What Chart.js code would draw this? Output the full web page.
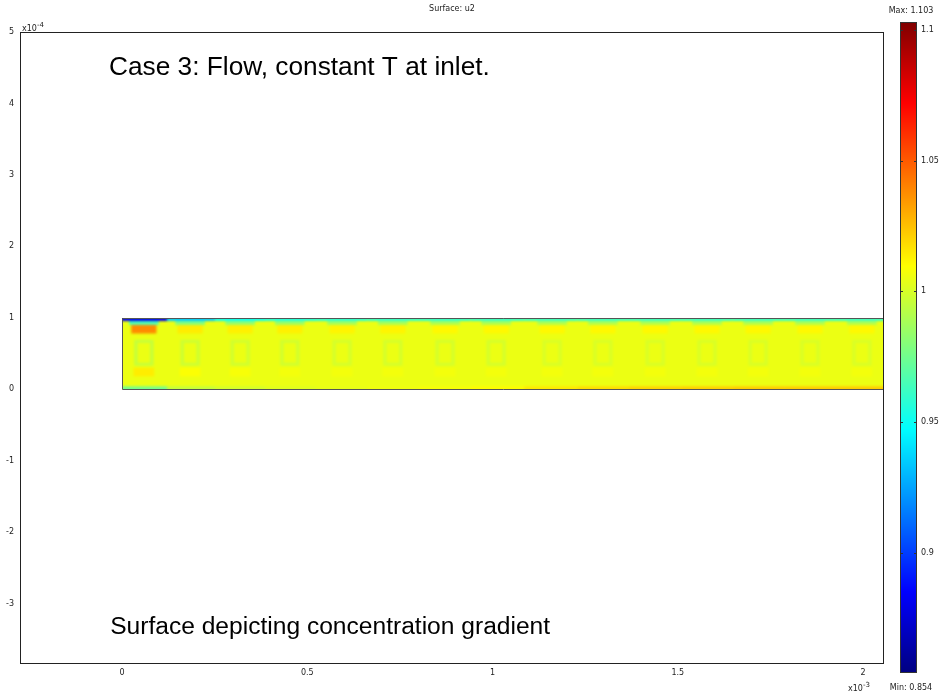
<!DOCTYPE html>
<html>
<head>
<meta charset="utf-8">
<script src="https://cdn.jsdelivr.net/npm/chart.js"></script>
<style>
  body { margin: 0; background: #fff; }
  canvas { position: absolute; left: 0; top: 0; }
</style>
</head>
<body>
<canvas id="myChart" width="945" height="698"></canvas>
<canvas id="colorBar" width="945" height="698"></canvas>
<script>
// axis ranges (x in 1e-3, y in 1e-4)
const xRange = [-0.2753, 2.0567];
const yRange = [-3.846, 5];
const colorMin = 0.854;
const colorMax = 1.103;

// channel extent
const domainX = [0, 2.06];
const domainY = [0, 1];

// repeating cell pattern along the channel, values of u2
const periodCenters = [0.059, 0.184, 0.319, 0.453, 0.594, 0.731, 0.872, 1.010, 1.161, 1.298, 1.439, 1.579, 1.717, 1.857, 1.997];
const baseValue = 1.005;
const topEdge    = [0.880, 0.935, 0.950, 0.955, 0.958, 0.960, 0.960, 0.961, 0.962, 0.962, 0.962, 0.962, 0.962, 0.962, 0.962];
const underTop   = [0.965, 0.978, 0.982, 0.984, 0.986, 0.987, 0.988, 0.988, 0.989, 0.989, 0.989, 0.989, 0.989, 0.989, 0.989];
const upperBlob  = [1.038, 1.014, 1.013, 1.013, 1.012, 1.012, 1.011, 1.011, 1.011, 1.011, 1.011, 1.011, 1.011, 1.011, 1.011];
const rectEdge   = [0.995, 0.997, 0.998, 0.998, 0.999, 0.999, 0.999, 0.999, 1.000, 1.000, 1.000, 1.000, 1.000, 1.000, 1.000];
const lowerBlob  = [1.014, 1.009, 1.008, 1.007, 1.007, 1.007, 1.007, 1.007, 1.007, 1.007, 1.007, 1.007, 1.007, 1.007, 1.007];
const bottomEdge = [0.975, 0.995, 0.999, 1.002, 1.004, 1.006, 1.008, 1.010, 1.015, 1.018, 1.020, 1.021, 1.022, 1.022, 1.022];

const xTickStep = 0.5;
const yTickStep = 1;
const colorTickStep = 0.05;

const caseText = 'Case 3: Flow, constant T at inlet.';
const noteText = 'Surface depicting concentration gradient';

Chart.defaults.font.family = "'DejaVu Sans', sans-serif";
Chart.defaults.font.size = 8;
Chart.defaults.color = '#222';

const jetRgb = (v) => {
    const t = (v - colorMin) / (colorMax - colorMin);
    const c = k => Math.round(255 * Math.max(0, Math.min(1, k)));
    return [c(1.5 - Math.abs(4 * t - 3)), c(1.5 - Math.abs(4 * t - 2)), c(1.5 - Math.abs(4 * t - 1))];
};
const jet = v => `rgb(${jetRgb(v).join(',')})`;

// small separable box blur, the surface in the picture is smoothly shaded
const boxBlur = (img, w, h, r) => {
    const d = img.data;
    const tmp = new Float32Array(d.length);
    for (let y = 0; y < h; y++) {
        for (let x = 0; x < w; x++) {
            for (let ch = 0; ch < 3; ch++) {
                let s = 0, n = 0;
                for (let k = -r; k <= r; k++) {
                    const xx = Math.min(w - 1, Math.max(0, x + k));
                    s += d[(y * w + xx) * 4 + ch]; n++;
                }
                tmp[(y * w + x) * 4 + ch] = s / n;
            }
        }
    }
    for (let y = 0; y < h; y++) {
        for (let x = 0; x < w; x++) {
            for (let ch = 0; ch < 3; ch++) {
                let s = 0, n = 0;
                for (let k = -r; k <= r; k++) {
                    const yy = Math.min(h - 1, Math.max(0, y + k));
                    s += tmp[(yy * w + x) * 4 + ch]; n++;
                }
                d[(y * w + x) * 4 + ch] = s / n;
            }
        }
    }
};

const fieldPlugin = {
    id: 'field',
    beforeDatasetsDraw(chart) {
        const {ctx, chartArea: a, scales: {x, y}} = chart;
        const l = Math.round(x.getPixelForValue(domainX[0]));
        const r = Math.min(Math.round(a.right), Math.round(x.getPixelForValue(domainX[1])));
        const t = Math.round(y.getPixelForValue(domainY[1]));
        const b = Math.round(y.getPixelForValue(domainY[0]));

        const off = document.createElement('canvas');
        off.width = chart.width;
        off.height = chart.height;
        const o = off.getContext('2d');
        const cell = (x0, x1, y0, y1, v) => {
            const pl = x.getPixelForValue(x0), pr = x.getPixelForValue(x1);
            const pt = y.getPixelForValue(y1), pb = y.getPixelForValue(y0);
            o.fillStyle = jet(v);
            o.fillRect(pl, pt, pr - pl, pb - pt);
        };
        const n = periodCenters.length;
        cell(domainX[0] - 0.05, domainX[1] + 0.05, domainY[0] - 0.05, domainY[1] + 0.05, baseValue);
        periodCenters.forEach((c, i) => {
            const lo = i === 0 ? domainX[0] - 0.05 : (c + periodCenters[i - 1]) / 2;
            const hi = i === n - 1 ? domainX[1] + 0.05 : (c + periodCenters[i + 1]) / 2;
            cell(c - 0.04, c + 0.04, 0.90, 0.96, underTop[i]);
            cell(lo, hi, 0.955, 1.06, topEdge[i]);
            cell(c - 0.034, c + 0.034, 0.78, 0.90, upperBlob[i]);
            cell(c - 0.026, c + 0.026, 0.33, 0.69, rectEdge[i]);
            cell(c - 0.017, c + 0.017, 0.37, 0.65, baseValue);
            cell(c - 0.028, c + 0.028, 0.18, 0.30, lowerBlob[i]);
            cell(lo, hi, -0.06, 0.04, bottomEdge[i]);
        });
        const img = o.getImageData(l - 6, t - 6, r - l + 12, b - t + 12);
        boxBlur(img, img.width, img.height, 1);
        boxBlur(img, img.width, img.height, 1);
        o.putImageData(img, l - 6, t - 6);

        ctx.save();
        ctx.beginPath();
        ctx.rect(l, t, r - l, b - t);
        ctx.clip();
        ctx.drawImage(off, 0, 0);
        ctx.restore();

        ctx.save();
        ctx.strokeStyle = '#555';
        ctx.lineWidth = 1;
        ctx.beginPath();
        ctx.moveTo(r, t + 0.5);
        ctx.lineTo(l + 0.5, t + 0.5);
        ctx.lineTo(l + 0.5, b + 0.5);
        ctx.lineTo(r, b + 0.5);
        ctx.stroke();
        ctx.restore();
    },
    afterDraw(chart) {
        const {ctx, chartArea: a, scales: {x, y}} = chart;
        ctx.save();
        ctx.strokeStyle = '#222';
        ctx.lineWidth = 1;
        ctx.strokeRect(a.left + 0.5, a.top + 0.5, a.width - 1, a.height - 1);

        // exponent labels
        ctx.fillStyle = '#222';
        ctx.textBaseline = 'alphabetic';
        ctx.textAlign = 'left';
        ctx.font = "8px 'DejaVu Sans', sans-serif";
        ctx.fillText('x10', a.left + 2, a.top - 1);
        ctx.fillText('x10', a.right - 36, chart.height - 7);
        ctx.font = "7px 'DejaVu Sans', sans-serif";
        ctx.fillText('-4', a.left + 17, a.top - 5);
        ctx.fillText('-3', a.right - 21, chart.height - 11);

        // annotations
        const fit = (txt, w) => {
            ctx.font = "20px 'Liberation Sans', Arial, sans-serif";
            const s = 20 * w / ctx.measureText(txt).width;
            ctx.font = `${s.toFixed(2)}px 'Liberation Sans', Arial, sans-serif`;
        };
        ctx.fillStyle = '#000';
        fit(caseText, 381);
        ctx.fillText(caseText, x.getPixelForValue(-0.035), y.getPixelForValue(4.40));
        fit(noteText, 440);
        ctx.fillText(noteText, x.getPixelForValue(-0.032), y.getPixelForValue(-3.43));
        ctx.restore();
    }
};

const colorBarPlugin = {
    id: 'colorBarFill',
    beforeDatasetsDraw(chart) {
        const {ctx, chartArea: a, scales: {y}} = chart;
        ctx.save();
        for (let py = Math.floor(a.top); py < a.bottom; py++) {
            ctx.fillStyle = jet(y.getValueForPixel(py + 0.5));
            ctx.fillRect(a.left, py, a.width, 1);
        }
        ctx.strokeStyle = '#333';
        ctx.lineWidth = 1;
        ctx.strokeRect(a.left + 0.5, a.top + 0.5, a.width - 1, a.height - 1);
        ctx.beginPath();
        y.ticks.forEach(t => {
            const yy = Math.round(y.getPixelForValue(t.value)) + 0.5;
            ctx.moveTo(a.left, yy); ctx.lineTo(a.left + 3, yy);
            ctx.moveTo(a.right - 3, yy); ctx.lineTo(a.right, yy);
        });
        ctx.stroke();
        ctx.fillStyle = '#222';
        ctx.textAlign = 'center';
        ctx.font = "8px 'DejaVu Sans', sans-serif";
        ctx.fillText('Max: ' + colorMax, a.left + 11, 13);
        ctx.fillText('Min: ' + colorMin, a.left + 11, 690);
        ctx.restore();
    }
};

const renderChart = () => {
    const ctx = document.getElementById('myChart').getContext('2d');
    new Chart(ctx, {
        type: 'scatter',
        data: { datasets: [] },
        plugins: [fieldPlugin],
        options: {
            responsive: false,
            animation: false,
            devicePixelRatio: 1,
            layout: { padding: { left: 0, right: 61, top: 0, bottom: 0 } },
            plugins: {
                legend: { display: false },
                tooltip: { enabled: false },
                title: {
                    display: true,
                    text: 'Surface: u2',
                    fullSize: false,
                    color: '#222',
                    font: { size: 8, weight: 'normal' },
                    padding: { top: 4, bottom: 18.4 }
                }
            },
            scales: {
                x: {
                    type: 'linear',
                    min: xRange[0],
                    max: xRange[1],
                    afterFit: s => { s.height = 34; },
                    grid: { display: false, drawTicks: false },
                    border: { display: false },
                    ticks: {
                        stepSize: xTickStep,
                        includeBounds: false,
                        padding: 4,
                        maxRotation: 0,
                        callback: v => String(v)
                    }
                },
                y: {
                    type: 'linear',
                    min: yRange[0],
                    max: yRange[1],
                    afterFit: s => { s.width = 20; },
                    grid: { display: false, drawTicks: false },
                    border: { display: false },
                    ticks: {
                        stepSize: yTickStep,
                        includeBounds: false,
                        padding: 6,
                        callback: v => String(v)
                    }
                }
            }
        }
    });

    const ctx2 = document.getElementById('colorBar').getContext('2d');
    new Chart(ctx2, {
        type: 'bar',
        data: { labels: [], datasets: [] },
        plugins: [colorBarPlugin],
        options: {
            responsive: false,
            animation: false,
            devicePixelRatio: 1,
            layout: { padding: { left: 900, right: 0, top: 22, bottom: 25 } },
            plugins: { legend: { display: false }, tooltip: { enabled: false } },
            scales: {
                x: { display: false },
                y: {
                    type: 'linear',
                    position: 'right',
                    min: colorMin,
                    max: colorMax,
                    afterFit: s => { s.width = 28; },
                    grid: { display: false, drawTicks: false },
                    border: { display: false },
                    ticks: {
                        stepSize: colorTickStep,
                        includeBounds: false,
                        padding: 4,
                        callback: v => String(+v.toFixed(3))
                    }
                }
            }
        }
    });
};

renderChart();
</script>
</body>
</html>
